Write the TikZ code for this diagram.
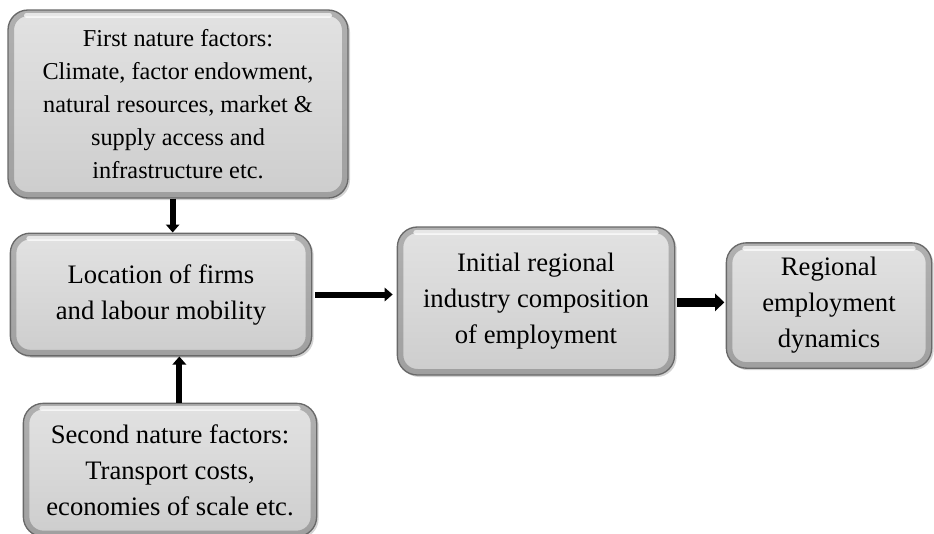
\documentclass[tikz,border=0pt]{standalone}
\usepackage{fontspec}
\setmainfont{Liberation Serif}
\usetikzlibrary{arrows.meta,shadows}
\definecolor{boxlight}{RGB}{226, 226, 226}
\definecolor{boxmid}{RGB}{216, 216, 216}
\definecolor{boxdark}{RGB}{205, 205, 205}
\definecolor{boxedge}{RGB}{105, 105, 105}

\tikzset{
  factorbox/.style={rounded corners=15pt, draw=boxedge, line width=1pt,
    top color=boxlight, bottom color=boxdark, middle color=boxmid,
    drop shadow={opacity=0.35, shadow xshift=1.5pt, shadow yshift=-1.5pt},
    path picture={
      \draw[rounded corners=15pt, line width=9pt, black, opacity=0.22]
        (path picture bounding box.south west)
        rectangle (path picture bounding box.north east);
      \draw[line width=4pt, white, opacity=0.7, line cap=round]
        ([xshift=14pt, yshift=-4pt]path picture bounding box.north west)
        -- ([xshift=-14pt, yshift=-4pt]path picture bounding box.north east);
    },
    align=center, inner sep=0pt,
    font=\fontsize{20}{27}\selectfont},
  flowarrow/.style={line width=4.5pt, -{Triangle[width=10pt, length=6pt]}},
  bigarrow/.style={line width=7pt, -{Triangle[width=13pt, length=7pt]}}
}

\begin{document}
\begin{tikzpicture}[x=0.75pt, y=-0.75pt]
        \useasboundingbox (0,0) rectangle (934,533);

        \node[factorbox, minimum width=255pt, minimum height=141pt,
          font=\fontsize{18.2}{24.75}\selectfont]
          (first) at (178,104)
          {First nature factors:\\ Climate, factor endowment,\\
           natural resources, market \&\\ supply access and\\
           infrastructure etc.};

        \node[factorbox, minimum width=226pt, minimum height=92pt]
          (loc) at (161,294.5)
          {Location of firms\\ and labour mobility};

        \node[factorbox, minimum width=220pt, minimum height=100pt]
          (second) at (170,470)
          {Second nature factors:\\ Transport costs,\\ economies of scale etc.};

        \node[factorbox, minimum width=208pt, minimum height=111pt]
          (comp) at (536,301)
          {Initial regional\\ industry composition\\ of employment};

        \node[factorbox, minimum width=154pt, minimum height=94pt]
          (dyn) at (829,305.5)
          {Regional\\ employment\\ dynamics};

        \draw[flowarrow] ([xshift=-4pt]first.south)
          -- ([xshift=-4pt]first.south |- loc.north);
        \draw[flowarrow] ([xshift=7pt]second.north)
          -- ([xshift=7pt]second.north |- loc.south);
        \draw[flowarrow, shorten <=2pt, shorten >=3pt] (loc.east)
          -- (loc.east -| comp.west);
        \draw[bigarrow, shorten <=1pt, shorten >=1pt] ([yshift=-1pt]comp.east)
          -- ([yshift=-1pt]comp.east -| dyn.west);
      \end{tikzpicture}
\end{document}
